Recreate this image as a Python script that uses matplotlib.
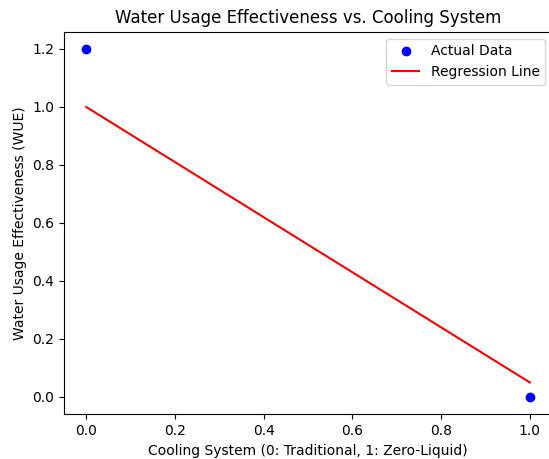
import matplotlib
matplotlib.use("Agg")
import matplotlib.pyplot as plt

x_actual = [0, 1]
wue_actual = [1.2, 0.0]
x_line = [0, 1]
wue_line = [1.0, 0.05]

fig = plt.figure(figsize=(5.49, 4.59), dpi=100)
ax = fig.add_axes([0.1166, 0.0972, 0.889, 0.834])
ax.scatter(x_actual, wue_actual, color='blue', label='Actual Data')
ax.plot(x_line, wue_line, color='red', label='Regression Line')
ax.set_title('Water Usage Effectiveness vs. Cooling System')
ax.set_xlabel('Cooling System (0: Traditional, 1: Zero-Liquid)')
ax.set_ylabel('Water Usage Effectiveness (WUE)')
ax.legend(loc='upper right')
fig.savefig('out.png', dpi=100)
